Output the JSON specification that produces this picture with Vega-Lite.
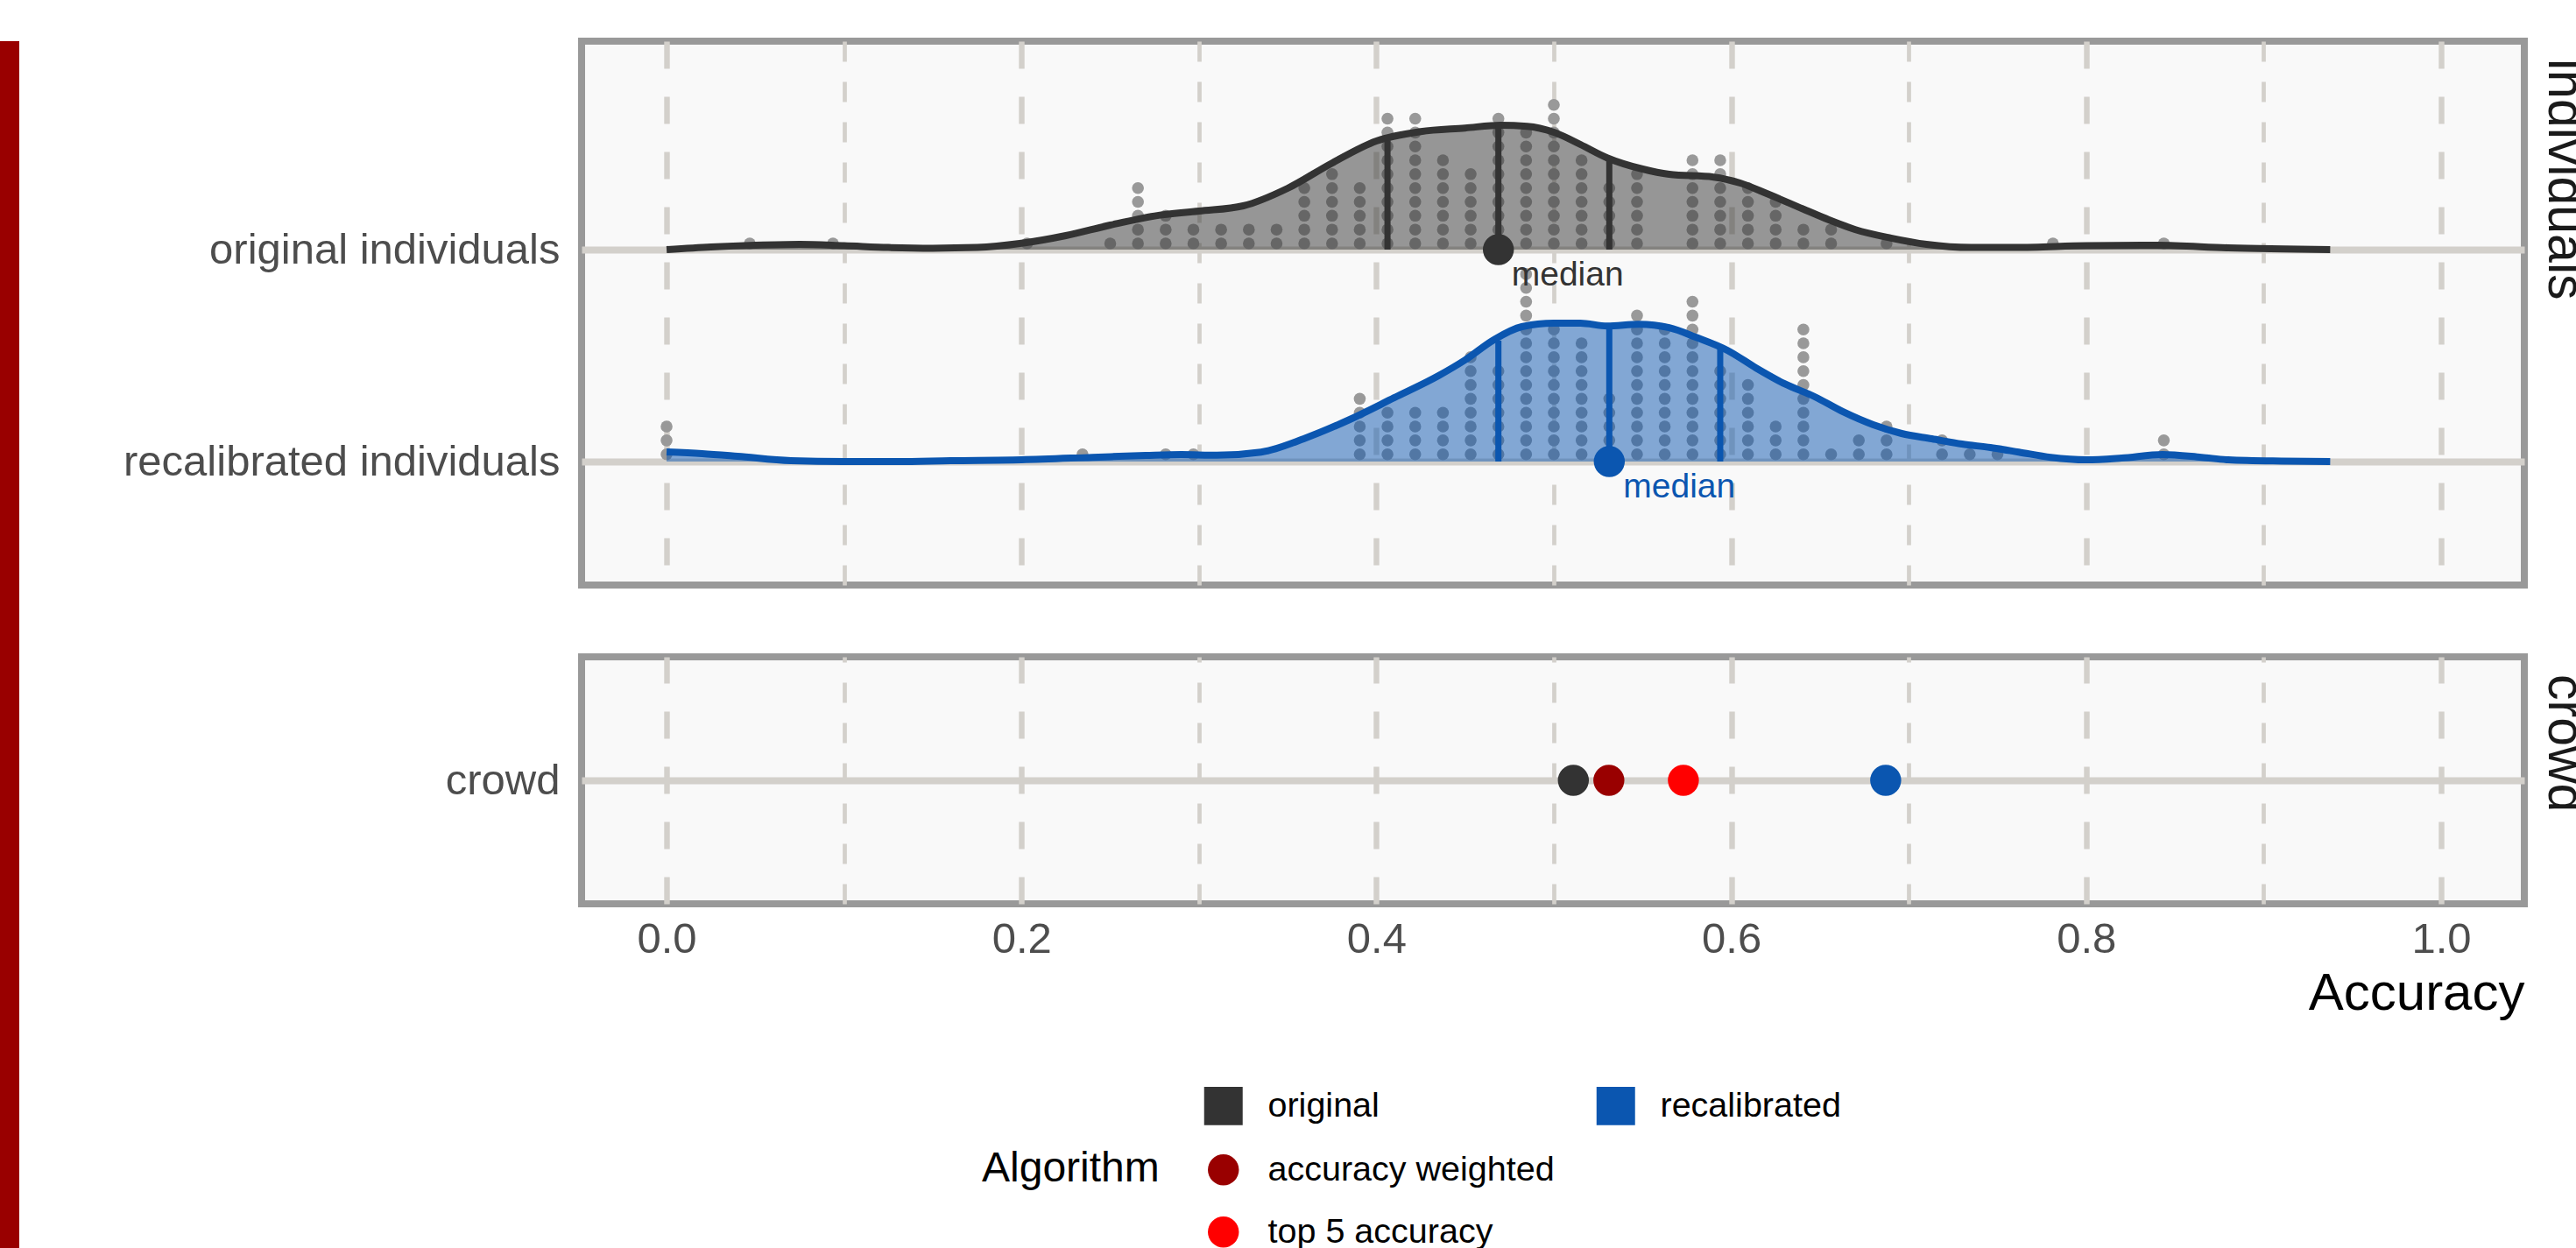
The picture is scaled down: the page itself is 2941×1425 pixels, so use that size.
{
  "$schema": "https://vega.github.io/schema/vega-lite/v6.json",
  "padding": 0,
  "background": "white",
  "config": {
    "font": "Liberation Sans",
    "view": {"fill": "#f9f9f9", "stroke": "#999999", "strokeWidth": 8},
    "title": {"fontWeight": "normal"},
    "axis": {"labelLimit": 1000}
  },
  "datasets": {
    "orig_acc": [
      {"accuracy":0.046875},{"accuracy":0.09375},{"accuracy":0.203125},{"accuracy":0.25},
      {"accuracy":0.265625},{"accuracy":0.265625},{"accuracy":0.265625},{"accuracy":0.265625},{"accuracy":0.265625},
      {"accuracy":0.28125},{"accuracy":0.28125},{"accuracy":0.28125},
      {"accuracy":0.296875},{"accuracy":0.296875},
      {"accuracy":0.3125},{"accuracy":0.3125},
      {"accuracy":0.328125},{"accuracy":0.328125},
      {"accuracy":0.34375},{"accuracy":0.34375},
      {"accuracy":0.359375},{"accuracy":0.359375},{"accuracy":0.359375},{"accuracy":0.359375},{"accuracy":0.359375},
      {"accuracy":0.375},{"accuracy":0.375},{"accuracy":0.375},{"accuracy":0.375},{"accuracy":0.375},{"accuracy":0.375},
      {"accuracy":0.390625},{"accuracy":0.390625},{"accuracy":0.390625},{"accuracy":0.390625},{"accuracy":0.390625},
      {"accuracy":0.40625},{"accuracy":0.40625},{"accuracy":0.40625},{"accuracy":0.40625},{"accuracy":0.40625},{"accuracy":0.40625},{"accuracy":0.40625},{"accuracy":0.40625},{"accuracy":0.40625},{"accuracy":0.40625},
      {"accuracy":0.421875},{"accuracy":0.421875},{"accuracy":0.421875},{"accuracy":0.421875},{"accuracy":0.421875},{"accuracy":0.421875},{"accuracy":0.421875},{"accuracy":0.421875},{"accuracy":0.421875},{"accuracy":0.421875},
      {"accuracy":0.4375},{"accuracy":0.4375},{"accuracy":0.4375},{"accuracy":0.4375},{"accuracy":0.4375},{"accuracy":0.4375},{"accuracy":0.4375},
      {"accuracy":0.453125},{"accuracy":0.453125},{"accuracy":0.453125},{"accuracy":0.453125},{"accuracy":0.453125},{"accuracy":0.453125},
      {"accuracy":0.46875},{"accuracy":0.46875},{"accuracy":0.46875},{"accuracy":0.46875},{"accuracy":0.46875},{"accuracy":0.46875},{"accuracy":0.46875},{"accuracy":0.46875},{"accuracy":0.46875},{"accuracy":0.46875},
      {"accuracy":0.484375},{"accuracy":0.484375},{"accuracy":0.484375},{"accuracy":0.484375},{"accuracy":0.484375},{"accuracy":0.484375},{"accuracy":0.484375},{"accuracy":0.484375},{"accuracy":0.484375},
      {"accuracy":0.5},{"accuracy":0.5},{"accuracy":0.5},{"accuracy":0.5},{"accuracy":0.5},{"accuracy":0.5},{"accuracy":0.5},{"accuracy":0.5},{"accuracy":0.5},{"accuracy":0.5},{"accuracy":0.5},
      {"accuracy":0.515625},{"accuracy":0.515625},{"accuracy":0.515625},{"accuracy":0.515625},{"accuracy":0.515625},{"accuracy":0.515625},{"accuracy":0.515625},
      {"accuracy":0.53125},{"accuracy":0.53125},{"accuracy":0.53125},{"accuracy":0.53125},{"accuracy":0.53125},
      {"accuracy":0.546875},{"accuracy":0.546875},{"accuracy":0.546875},{"accuracy":0.546875},{"accuracy":0.546875},{"accuracy":0.546875},
      {"accuracy":0.578125},{"accuracy":0.578125},{"accuracy":0.578125},{"accuracy":0.578125},{"accuracy":0.578125},{"accuracy":0.578125},{"accuracy":0.578125},
      {"accuracy":0.59375},{"accuracy":0.59375},{"accuracy":0.59375},{"accuracy":0.59375},{"accuracy":0.59375},{"accuracy":0.59375},{"accuracy":0.59375},
      {"accuracy":0.609375},{"accuracy":0.609375},{"accuracy":0.609375},{"accuracy":0.609375},{"accuracy":0.609375},
      {"accuracy":0.625},{"accuracy":0.625},{"accuracy":0.625},{"accuracy":0.625},
      {"accuracy":0.640625},{"accuracy":0.640625},
      {"accuracy":0.65625},{"accuracy":0.65625},
      {"accuracy":0.6875},{"accuracy":0.78125},{"accuracy":0.84375}
    ],
    "recal_acc": [
      {"accuracy":0},{"accuracy":0},{"accuracy":0},
      {"accuracy":0.234375},{"accuracy":0.28125},{"accuracy":0.296875},
      {"accuracy":0.390625},{"accuracy":0.390625},{"accuracy":0.390625},{"accuracy":0.390625},{"accuracy":0.390625},
      {"accuracy":0.40625},{"accuracy":0.40625},{"accuracy":0.40625},{"accuracy":0.40625},
      {"accuracy":0.421875},{"accuracy":0.421875},{"accuracy":0.421875},{"accuracy":0.421875},
      {"accuracy":0.4375},{"accuracy":0.4375},{"accuracy":0.4375},{"accuracy":0.4375},
      {"accuracy":0.453125},{"accuracy":0.453125},{"accuracy":0.453125},{"accuracy":0.453125},{"accuracy":0.453125},{"accuracy":0.453125},{"accuracy":0.453125},{"accuracy":0.453125},
      {"accuracy":0.46875},{"accuracy":0.46875},{"accuracy":0.46875},{"accuracy":0.46875},{"accuracy":0.46875},{"accuracy":0.46875},{"accuracy":0.46875},
      {"accuracy":0.484375},{"accuracy":0.484375},{"accuracy":0.484375},{"accuracy":0.484375},{"accuracy":0.484375},{"accuracy":0.484375},{"accuracy":0.484375},{"accuracy":0.484375},{"accuracy":0.484375},{"accuracy":0.484375},{"accuracy":0.484375},{"accuracy":0.484375},{"accuracy":0.484375},{"accuracy":0.484375},
      {"accuracy":0.5},{"accuracy":0.5},{"accuracy":0.5},{"accuracy":0.5},{"accuracy":0.5},{"accuracy":0.5},{"accuracy":0.5},{"accuracy":0.5},{"accuracy":0.5},{"accuracy":0.5},
      {"accuracy":0.515625},{"accuracy":0.515625},{"accuracy":0.515625},{"accuracy":0.515625},{"accuracy":0.515625},{"accuracy":0.515625},{"accuracy":0.515625},{"accuracy":0.515625},{"accuracy":0.515625},
      {"accuracy":0.53125},{"accuracy":0.53125},{"accuracy":0.53125},{"accuracy":0.53125},{"accuracy":0.53125},
      {"accuracy":0.546875},{"accuracy":0.546875},{"accuracy":0.546875},{"accuracy":0.546875},{"accuracy":0.546875},{"accuracy":0.546875},{"accuracy":0.546875},{"accuracy":0.546875},{"accuracy":0.546875},{"accuracy":0.546875},{"accuracy":0.546875},
      {"accuracy":0.5625},{"accuracy":0.5625},{"accuracy":0.5625},{"accuracy":0.5625},{"accuracy":0.5625},{"accuracy":0.5625},{"accuracy":0.5625},{"accuracy":0.5625},{"accuracy":0.5625},{"accuracy":0.5625},
      {"accuracy":0.578125},{"accuracy":0.578125},{"accuracy":0.578125},{"accuracy":0.578125},{"accuracy":0.578125},{"accuracy":0.578125},{"accuracy":0.578125},{"accuracy":0.578125},{"accuracy":0.578125},{"accuracy":0.578125},{"accuracy":0.578125},{"accuracy":0.578125},
      {"accuracy":0.59375},{"accuracy":0.59375},{"accuracy":0.59375},{"accuracy":0.59375},{"accuracy":0.59375},{"accuracy":0.59375},{"accuracy":0.59375},
      {"accuracy":0.609375},{"accuracy":0.609375},{"accuracy":0.609375},{"accuracy":0.609375},{"accuracy":0.609375},{"accuracy":0.609375},
      {"accuracy":0.625},{"accuracy":0.625},{"accuracy":0.625},
      {"accuracy":0.640625},{"accuracy":0.640625},{"accuracy":0.640625},{"accuracy":0.640625},{"accuracy":0.640625},{"accuracy":0.640625},{"accuracy":0.640625},{"accuracy":0.640625},{"accuracy":0.640625},{"accuracy":0.640625},
      {"accuracy":0.65625},
      {"accuracy":0.671875},{"accuracy":0.671875},
      {"accuracy":0.6875},{"accuracy":0.6875},{"accuracy":0.6875},
      {"accuracy":0.71875},{"accuracy":0.71875},
      {"accuracy":0.734375},{"accuracy":0.75},
      {"accuracy":0.84375},{"accuracy":0.84375}
    ],
    "orig_dens": [
      {"accuracy":0,"density":0},{"accuracy":0.025,"density":0.075},{"accuracy":0.05,"density":0.125},{"accuracy":0.075,"density":0.15},{"accuracy":0.1,"density":0.11},{"accuracy":0.125,"density":0.06},{"accuracy":0.15,"density":0.04},{"accuracy":0.175,"density":0.06},{"accuracy":0.2,"density":0.18},{"accuracy":0.225,"density":0.4},{"accuracy":0.25,"density":0.7},{"accuracy":0.275,"density":0.96},{"accuracy":0.3,"density":1.1},{"accuracy":0.325,"density":1.25},{"accuracy":0.35,"density":1.75},{"accuracy":0.375,"density":2.47},{"accuracy":0.4,"density":3.1},{"accuracy":0.425,"density":3.37},{"accuracy":0.45,"density":3.47},{"accuracy":0.47,"density":3.55},{"accuracy":0.485,"density":3.52},{"accuracy":0.5,"density":3.35},{"accuracy":0.515,"density":3.0},{"accuracy":0.53,"density":2.62},{"accuracy":0.55,"density":2.3},{"accuracy":0.565,"density":2.15},{"accuracy":0.59,"density":2.07},{"accuracy":0.605,"density":1.9},{"accuracy":0.62,"density":1.6},{"accuracy":0.64,"density":1.17},{"accuracy":0.655,"density":0.85},{"accuracy":0.67,"density":0.57},{"accuracy":0.69,"density":0.33},{"accuracy":0.71,"density":0.15},{"accuracy":0.735,"density":0.06},{"accuracy":0.76,"density":0.06},{"accuracy":0.8,"density":0.11},{"accuracy":0.84,"density":0.125},{"accuracy":0.88,"density":0.05},{"accuracy":0.9375,"density":0}
    ],
    "recal_dens": [
      {"accuracy":0,"density":0.275},{"accuracy":0.02,"density":0.225},{"accuracy":0.04,"density":0.15},{"accuracy":0.07,"density":0.025},{"accuracy":0.1,"density":0},{"accuracy":0.13,"density":0},{"accuracy":0.16,"density":0.025},{"accuracy":0.2,"density":0.05},{"accuracy":0.24,"density":0.12},{"accuracy":0.27,"density":0.175},{"accuracy":0.29,"density":0.2},{"accuracy":0.31,"density":0.18},{"accuracy":0.335,"density":0.27},{"accuracy":0.36,"density":0.67},{"accuracy":0.385,"density":1.2},{"accuracy":0.41,"density":1.82},{"accuracy":0.435,"density":2.45},{"accuracy":0.45,"density":2.9},{"accuracy":0.466,"density":3.47},{"accuracy":0.482,"density":3.85},{"accuracy":0.5,"density":3.95},{"accuracy":0.515,"density":3.95},{"accuracy":0.53,"density":3.87},{"accuracy":0.548,"density":3.92},{"accuracy":0.565,"density":3.82},{"accuracy":0.58,"density":3.55},{"accuracy":0.598,"density":3.17},{"accuracy":0.614,"density":2.67},{"accuracy":0.63,"density":2.22},{"accuracy":0.647,"density":1.85},{"accuracy":0.663,"density":1.42},{"accuracy":0.68,"density":1.05},{"accuracy":0.696,"density":0.8},{"accuracy":0.713,"density":0.65},{"accuracy":0.73,"density":0.5},{"accuracy":0.746,"density":0.4},{"accuracy":0.762,"density":0.27},{"accuracy":0.78,"density":0.12},{"accuracy":0.8,"density":0.05},{"accuracy":0.82,"density":0.1},{"accuracy":0.843,"density":0.2},{"accuracy":0.865,"density":0.12},{"accuracy":0.88,"density":0.05},{"accuracy":0.91,"density":0.012},{"accuracy":0.9375,"density":0}
    ],
    "orig_q": [{"accuracy":0.40625,"density":3.12},{"accuracy":0.46875,"density":3.55},{"accuracy":0.53125,"density":2.6}],
    "recal_q": [{"accuracy":0.46875,"density":3.45},{"accuracy":0.53125,"density":3.87},{"accuracy":0.59375,"density":3.22}],
    "orig_med": [{"accuracy":0.46875}],
    "recal_med": [{"accuracy":0.53125}],
    "crowd": [
      {"panel":"crowd","algorithm":"original","accuracy":0.511},
      {"panel":"crowd","algorithm":"accuracy weighted","accuracy":0.531},
      {"panel":"crowd","algorithm":"top 5 accuracy","accuracy":0.573},
      {"panel":"crowd","algorithm":"recalibrated","accuracy":0.687}
    ]
  },
  "spacing": 114,
  "hconcat": [
    {
      "width": 22,
      "height": 1425,
      "view": {"fill": "#990000", "stroke": null},
      "data": {"values": [{}]},
      "mark": {"type": "point", "opacity": 0},
      "encoding": {}
    },
    {
      "title": {"text": " ", "fontSize": 4, "offset": 39, "anchor": "start"},
      "spacing": 74,
      "vconcat": [
        {
          "width": 2218,
          "height": 621,
          "title": {"text": "individuals", "orient": "right", "anchor": "start", "fontSize": 59, "color": "#1a1a1a", "offset": 16, "dx": 20},
          "layer": [
            {
              "data": {"name": "orig_acc"},
              "transform": [{"window": [{"op": "row_number", "as": "stack"}], "groupby": ["accuracy"]}],
              "mark": {"type": "circle", "size": 184, "opacity": 1, "color": "#999999"},
              "encoding": {
                "x": {"field": "accuracy", "type": "quantitative", "scale": {"domain": [-0.0479, 1.0469], "nice": false, "zero": false},
                      "axis": {"orient": "bottom", "values": [0, 0.2, 0.4, 0.6, 0.8, 1], "grid": true, "gridColor": "#d3d0cb", "gridWidth": 6.4, "gridDash": [31, 32], "labels": false, "ticks": false, "tickSize": 0, "domain": false, "title": null}},
                "y": {"field": "stack", "type": "quantitative", "scale": {"domain": [-23.637, 15.592], "nice": false, "zero": false}, "axis": null}
              }
            },
            {
              "data": {"name": "recal_acc"},
              "transform": [{"window": [{"op": "row_number", "as": "stack"}], "groupby": ["accuracy"]}],
              "mark": {"type": "circle", "size": 184, "opacity": 1, "color": "#999999"},
              "encoding": {
                "x": {"field": "accuracy", "type": "quantitative", "scale": {"domain": [-0.0479, 1.0469], "nice": false, "zero": false},
                      "axis": {"orient": "bottom", "values": [0.1, 0.3, 0.5, 0.7, 0.9], "grid": true, "gridColor": "#d3d0cb", "gridWidth": 4.7, "gridDash": [23, 23], "labels": false, "ticks": false, "tickSize": 0, "domain": false, "title": null}},
                "y": {"field": "stack", "type": "quantitative", "scale": {"domain": [-8.432, 30.797], "nice": false, "zero": false}, "axis": null}
              }
            },
            {
              "data": {"name": "orig_dens"},
              "mark": {"type": "area", "color": "#333333", "opacity": 0.5, "interpolate": "monotone"},
              "encoding": {
                "x": {"field": "accuracy", "type": "quantitative", "scale": {"domain": [-0.0479, 1.0469], "nice": false, "zero": false}, "axis": null},
                "y": {"field": "density", "type": "quantitative", "stack": null, "scale": {"domain": [-9.575, 5.95], "nice": false, "zero": false},
                      "axis": {"orient": "left", "values": [0], "labelExpr": "'original individuals'", "grid": true, "gridColor": "#d3d0cb", "gridWidth": 8, "domain": false, "ticks": false, "tickSize": 0, "labelFontSize": 49, "labelColor": "#4d4d4d", "labelPadding": 25, "labelLimit": 1000, "title": null}},
                "y2": {"datum": 0}
              }
            },
            {
              "data": {"name": "recal_dens"},
              "mark": {"type": "area", "color": "#0b56b0", "opacity": 0.5, "interpolate": "monotone"},
              "encoding": {
                "x": {"field": "accuracy", "type": "quantitative", "scale": {"domain": [-0.0479, 1.0469], "nice": false, "zero": false}, "axis": null},
                "y": {"field": "density", "type": "quantitative", "stack": null, "scale": {"domain": [-3.525, 12.0], "nice": false, "zero": false},
                      "axis": {"orient": "left", "values": [0], "labelExpr": "'recalibrated individuals'", "grid": true, "gridColor": "#d3d0cb", "gridWidth": 8, "domain": false, "ticks": false, "tickSize": 0, "labelFontSize": 49, "labelColor": "#4d4d4d", "labelPadding": 25, "labelLimit": 1000, "title": null}},
                "y2": {"datum": 0}
              }
            },
            {
              "data": {"name": "orig_dens"},
              "mark": {"type": "line", "color": "#333333", "strokeWidth": 8, "interpolate": "monotone"},
              "encoding": {
                "x": {"field": "accuracy", "type": "quantitative", "scale": {"domain": [-0.0479, 1.0469], "nice": false, "zero": false}, "axis": null},
                "y": {"field": "density", "type": "quantitative", "scale": {"domain": [-9.575, 5.95], "nice": false, "zero": false}, "axis": null}
              }
            },
            {
              "data": {"name": "recal_dens"},
              "mark": {"type": "line", "color": "#0b56b0", "strokeWidth": 8, "interpolate": "monotone"},
              "encoding": {
                "x": {"field": "accuracy", "type": "quantitative", "scale": {"domain": [-0.0479, 1.0469], "nice": false, "zero": false}, "axis": null},
                "y": {"field": "density", "type": "quantitative", "scale": {"domain": [-3.525, 12.0], "nice": false, "zero": false}, "axis": null}
              }
            },
            {
              "data": {"name": "orig_q"},
              "mark": {"type": "rule", "color": "#333333", "strokeWidth": 7},
              "encoding": {
                "x": {"field": "accuracy", "type": "quantitative", "scale": {"domain": [-0.0479, 1.0469], "nice": false, "zero": false}, "axis": null},
                "y": {"field": "density", "type": "quantitative", "scale": {"domain": [-9.575, 5.95], "nice": false, "zero": false}, "axis": null},
                "y2": {"datum": 0}
              }
            },
            {
              "data": {"name": "recal_q"},
              "mark": {"type": "rule", "color": "#0b56b0", "strokeWidth": 7},
              "encoding": {
                "x": {"field": "accuracy", "type": "quantitative", "scale": {"domain": [-0.0479, 1.0469], "nice": false, "zero": false}, "axis": null},
                "y": {"field": "density", "type": "quantitative", "scale": {"domain": [-3.525, 12.0], "nice": false, "zero": false}, "axis": null},
                "y2": {"datum": 0}
              }
            },
            {
              "data": {"name": "orig_med"},
              "mark": {"type": "circle", "size": 1257, "opacity": 1, "color": "#333333"},
              "encoding": {
                "x": {"field": "accuracy", "type": "quantitative", "scale": {"domain": [-0.0479, 1.0469], "nice": false, "zero": false}, "axis": null},
                "y": {"datum": 0, "type": "quantitative", "scale": {"domain": [-9.575, 5.95], "nice": false, "zero": false}, "axis": null}
              }
            },
            {
              "data": {"name": "recal_med"},
              "mark": {"type": "circle", "size": 1257, "opacity": 1, "color": "#0b56b0"},
              "encoding": {
                "x": {"field": "accuracy", "type": "quantitative", "scale": {"domain": [-0.0479, 1.0469], "nice": false, "zero": false}, "axis": null},
                "y": {"datum": 0, "type": "quantitative", "scale": {"domain": [-3.525, 12.0], "nice": false, "zero": false}, "axis": null}
              }
            },
            {
              "data": {"name": "orig_med"},
              "mark": {"type": "text", "text": "median", "align": "left", "baseline": "alphabetic", "dx": 15, "dy": 41, "fontSize": 39, "color": "#333333"},
              "encoding": {
                "x": {"field": "accuracy", "type": "quantitative", "scale": {"domain": [-0.0479, 1.0469], "nice": false, "zero": false}, "axis": null},
                "y": {"datum": 0, "type": "quantitative", "scale": {"domain": [-9.575, 5.95], "nice": false, "zero": false}, "axis": null}
              }
            },
            {
              "data": {"name": "recal_med"},
              "mark": {"type": "text", "text": "median", "align": "left", "baseline": "alphabetic", "dx": 16, "dy": 41, "fontSize": 39, "color": "#0b56b0"},
              "encoding": {
                "x": {"field": "accuracy", "type": "quantitative", "scale": {"domain": [-0.0479, 1.0469], "nice": false, "zero": false}, "axis": null},
                "y": {"datum": 0, "type": "quantitative", "scale": {"domain": [-3.525, 12.0], "nice": false, "zero": false}, "axis": null}
              }
            }
          ],
          "resolve": {"scale": {"y": "independent"}, "axis": {"x": "independent", "y": "independent"}}
        },
        {
          "width": 2218,
          "height": 282,
          "data": {"name": "crowd"},
          "title": {"text": "crowd", "orient": "right", "anchor": "start", "fontSize": 59, "color": "#1a1a1a", "offset": 16, "dx": 20},
          "layer": [
            {
              "mark": {"type": "point", "filled": true, "opacity": 0},
              "encoding": {
                "x": {"field": "accuracy", "type": "quantitative", "scale": {"domain": [-0.0479, 1.0469], "nice": false, "zero": false},
                      "axis": {"orient": "bottom", "values": [0.1, 0.3, 0.5, 0.7, 0.9], "grid": true, "gridColor": "#d3d0cb", "gridWidth": 4.7, "gridDash": [23, 23], "labels": false, "ticks": false, "tickSize": 0, "domain": false, "title": null}},
                "y": {"field": "panel", "type": "nominal", "scale": {"type": "point"},
                      "axis": {"orient": "left", "grid": true, "gridColor": "#d3d0cb", "gridWidth": 8, "domain": false, "ticks": false, "tickSize": 0, "labelFontSize": 49, "labelColor": "#4d4d4d", "labelPadding": 25, "labelLimit": 1000, "title": null}},
                "color": {
                  "field": "algorithm", "type": "nominal",
                  "scale": {"domain": ["original", "accuracy weighted", "top 5 accuracy", "recalibrated", "blank"], "range": ["#333333", "#990000", "#ff0000", "#0b56b0", "rgba(0,0,0,0)"]},
                  "legend": {
                    "title": "Algorithm", "orient": "none", "legendX": 1121, "legendY": 1196,
                    "columns": 2, "titleOrient": "left", "titleAnchor": "middle", "titleBaseline": "middle",
                    "titleFontSize": 48, "titleFontWeight": "normal", "titleColor": "#000000", "titlePadding": 53, "titleLimit": 1000,
                    "labelFontSize": 39.5, "labelColor": "#000000", "labelOffset": 31, "labelLimit": 1000, "columnPadding": 47, "rowPadding": 30,
                    "labelExpr": "datum.value == 'blank' ? '' : datum.label",
                    "symbolSize": 1257, "symbolOpacity": 1, "symbolStrokeWidth": 0
                  }
                },
                "shape": {
                  "field": "algorithm", "type": "nominal",
                  "scale": {"domain": ["original", "accuracy weighted", "top 5 accuracy", "recalibrated", "blank"], "range": ["M-1.241,-1.241H1.241V1.241H-1.241Z", "circle", "circle", "M-1.241,-1.241H1.241V1.241H-1.241Z", "circle"]},
                  "legend": {
                    "title": "Algorithm", "orient": "none", "legendX": 1121, "legendY": 1196,
                    "columns": 2, "titleOrient": "left", "titleAnchor": "middle", "titleBaseline": "middle",
                    "titleFontSize": 48, "titleFontWeight": "normal", "titleColor": "#000000", "titlePadding": 53, "titleLimit": 1000,
                    "labelFontSize": 39.5, "labelColor": "#000000", "labelOffset": 31, "labelLimit": 1000, "columnPadding": 47, "rowPadding": 30,
                    "labelExpr": "datum.value == 'blank' ? '' : datum.label",
                    "symbolSize": 1257, "symbolOpacity": 1, "symbolStrokeWidth": 0
                  }
                }
              }
            },
            {
              "mark": {"type": "circle", "size": 1257, "opacity": 1},
              "encoding": {
                "x": {"field": "accuracy", "type": "quantitative", "scale": {"domain": [-0.0479, 1.0469], "nice": false, "zero": false},
                      "axis": {"orient": "bottom", "values": [0, 0.2, 0.4, 0.6, 0.8, 1], "format": ".1f", "grid": true, "gridColor": "#d3d0cb", "gridWidth": 6.4, "gridDash": [31, 32], "domain": false, "ticks": false, "tickSize": 0, "labelFontSize": 49, "labelColor": "#4d4d4d", "labelPadding": 16, "title": "Accuracy", "titleFontSize": 60, "titleColor": "#000000", "titleFontWeight": "normal", "titleAnchor": "end", "titlePadding": 8}},
                "y": {"field": "panel", "type": "nominal", "scale": {"type": "point"},
                      "axis": {"orient": "left", "grid": true, "gridColor": "#d3d0cb", "gridWidth": 8, "domain": false, "ticks": false, "tickSize": 0, "labelFontSize": 49, "labelColor": "#4d4d4d", "labelPadding": 25, "labelLimit": 1000, "title": null}},
                "color": {
                  "field": "algorithm", "type": "nominal",
                  "scale": {"domain": ["original", "accuracy weighted", "top 5 accuracy", "recalibrated", "blank"], "range": ["#333333", "#990000", "#ff0000", "#0b56b0", "rgba(0,0,0,0)"]},
                  "legend": null
                }
              }
            }
          ],
          "resolve": {"axis": {"x": "independent"}}
        }
      ]
    }
  ]
}
